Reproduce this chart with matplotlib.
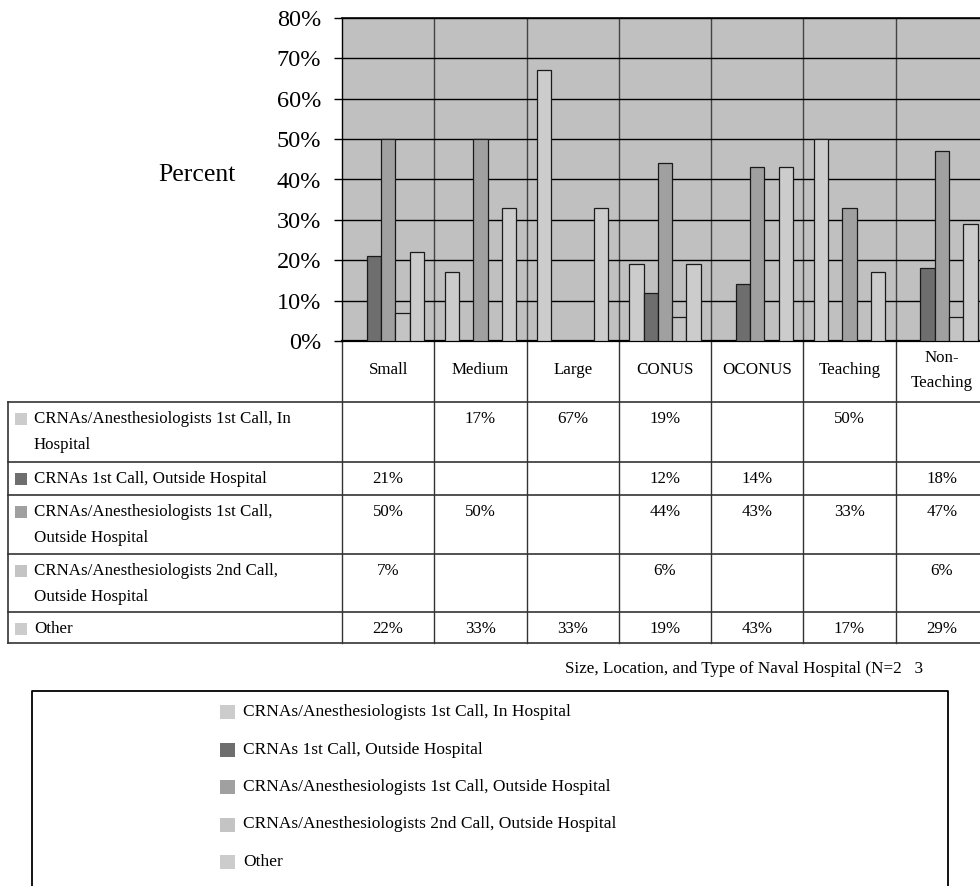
import matplotlib
matplotlib.use('Agg')
import matplotlib.pyplot as plt
import numpy as np

plt.rcParams['font.family'] = ['Liberation Serif', 'DejaVu Serif']

# ---------------- data ----------------
categories = ['Small', 'Medium', 'Large', 'CONUS', 'OCONUS', 'Teaching', 'Non-\nTeaching']
series_names = [
    'CRNAs/Anesthesiologists 1st Call, In Hospital',
    'CRNAs 1st Call, Outside Hospital',
    'CRNAs/Anesthesiologists 1st Call, Outside Hospital',
    'CRNAs/Anesthesiologists 2nd Call, Outside Hospital',
    'Other',
]
table_labels = [
    'CRNAs/Anesthesiologists 1st Call, In\nHospital',
    'CRNAs 1st Call, Outside Hospital',
    'CRNAs/Anesthesiologists 1st Call,\nOutside Hospital',
    'CRNAs/Anesthesiologists 2nd Call,\nOutside Hospital',
    'Other',
]
in_hospital = [None, 17, 67, 19, None, 50, None]
crna_outside = [21, None, None, 12, 14, None, 18]
first_outside = [50, 50, None, 44, 43, 33, 47]
second_outside = [7, None, None, 6, None, None, 6]
other = [22, 33, 33, 19, 43, 17, 29]
series_values = [in_hospital, crna_outside, first_outside, second_outside, other]
series_colors = ['#cccccc', '#6e6e6e', '#a0a0a0', '#c4c4c4', '#cccccc']
yticks = [0, 10, 20, 30, 40, 50, 60, 70, 80]
ytick_labels = ['0%', '10%', '20%', '30%', '40%', '50%', '60%', '70%', '80%']
y_title = 'Percent'
x_title = 'Size, Location, and Type of Naval Hospital (N=2   3'

# ---------------- layout (pixels) ----------------
W, H = 980, 886
AX_L, AX_R, AX_T, AX_B = 342, 988, 18, 341
ncat = len(categories)
CAT_W = (AX_R - AX_L) / ncat

fig = plt.figure(figsize=(W / 100, H / 100), dpi=100)
fig.patch.set_facecolor('white')

# overlay for table/legend in pixel coordinates
ov = fig.add_axes([0, 0, 1, 1])
ov.set_xlim(0, W)
ov.set_ylim(H, 0)
ov.axis('off')

ax = fig.add_axes([AX_L / W, (H - AX_B) / H, (AX_R - AX_L) / W, (AX_B - AX_T) / H])
ax.set_facecolor('#c0c0c0')
ax.set_xlim(0, ncat)
ax.set_ylim(0, 80)
ax.set_axisbelow(True)

bw = 0.155
for k, (vals, col) in enumerate(zip(series_values, series_colors)):
    idx = [i for i, a in enumerate(vals) if a is not None]
    xs = np.array(idx) + 0.5 + (k - 2) * bw
    hs = [vals[i] for i in idx]
    ax.bar(xs, hs, width=bw, color=col, edgecolor='#1a1a1a',
           linewidth=0.9, zorder=3)

ax.set_yticks(yticks)
ax.set_yticklabels(ytick_labels, fontsize=17.5)
ax.tick_params(axis='y', direction='out', length=6, width=1, pad=9, colors='black')
ax.set_xticks(range(1, ncat))
ax.set_xticklabels([])
ax.tick_params(axis='x', length=0)
ax.yaxis.grid(True, color='black', linewidth=1)
ax.xaxis.grid(True, color='#444444', linewidth=1)
for s in ['left', 'top', 'bottom']:
    ax.spines[s].set_color('black')
ax.spines['left'].set_linewidth(1)
ax.spines['top'].set_linewidth(1.2)
ax.spines['bottom'].set_linewidth(1.6)
ax.spines['right'].set_visible(False)

ov.text(197, 175, y_title, fontsize=18.5, ha='center', va='center')

# ---------------- data table ----------------
lc = '#333333'
rows = [402, 462, 495, 554, 612, 643]
TAB_L = 8
col_edges = [AX_L + i * CAT_W for i in range(ncat + 1)]

for xe in col_edges:
    ov.plot([xe, xe], [AX_B, rows[-1]], color=lc, lw=1)
for yr in rows:
    ov.plot([TAB_L, W + 20], [yr, yr], color=lc, lw=1.2)
ov.plot([TAB_L, TAB_L], [rows[0], rows[-1]], color=lc, lw=1.2)

fs_t = 12.2
for i, cat in enumerate(categories):
    cx = col_edges[i] + CAT_W / 2
    lines = cat.split('\n')
    if len(lines) == 1:
        ov.text(cx, 370, cat, fontsize=fs_t, ha='center', va='center')
    else:
        for j, ln in enumerate(lines):
            ov.text(cx, 358 + 25 * j, ln, fontsize=fs_t, ha='center', va='center')

for r, (lab, vals, col) in enumerate(zip(table_labels, series_values, series_colors)):
    top = rows[r]
    yc = top + 17
    ov.add_patch(plt.Rectangle((15, yc - 6), 12, 12, facecolor=col, edgecolor='none'))
    for j, ln in enumerate(lab.split('\n')):
        ov.text(34, yc + 26 * j, ln, fontsize=fs_t, ha='left', va='center')
    for i, v in enumerate(vals):
        if v is not None:
            cx = col_edges[i] + CAT_W / 2
            ov.text(cx, yc, f'{v}%', fontsize=fs_t, ha='center', va='center')

# axis title
ov.text(923, 669, x_title, fontsize=12.3, ha='right', va='center')

# ---------------- legend ----------------
ov.plot([32, 32, 948, 948], [H + 10, 691, 691, H + 10], color='black', lw=1.3,
        clip_on=False)
leg_y0, leg_dy = 712, 37.5
for k, (name, col) in enumerate(zip(series_names, series_colors)):
    yc = leg_y0 + k * leg_dy
    ov.add_patch(plt.Rectangle((220, yc - 7), 15, 14, facecolor=col, edgecolor='none'))
    ov.text(243, yc, name, fontsize=12.5, ha='left', va='center')

fig.savefig('out.png', dpi=100)
